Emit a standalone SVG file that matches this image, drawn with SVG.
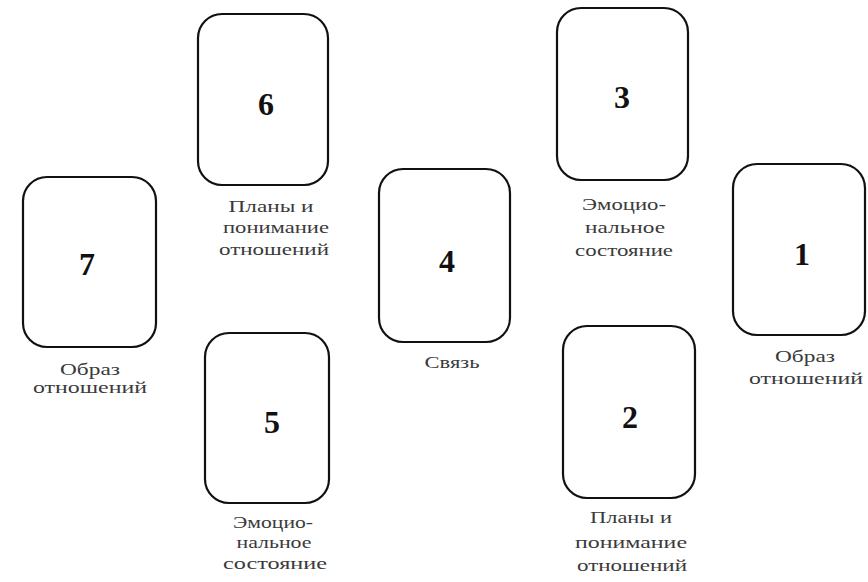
<svg xmlns="http://www.w3.org/2000/svg" width="868" height="582" viewBox="0 0 868 582">
<style>
.card{fill:#fff;stroke:#111;stroke-width:2.2}
.num{font-family:"Liberation Serif",serif;font-weight:bold;font-size:32px;fill:#111;text-anchor:middle}
.cap{font-family:"Liberation Serif",serif;font-size:16px;fill:#3a3a3a;text-anchor:middle}
</style>
<rect width="868" height="582" fill="#fff"/>
<g id="card7">
<rect class="card" x="23" y="177" width="133" height="170" rx="24"/>
<text class="num" x="87" y="275">7</text>
<text class="cap" x="90" y="375" textLength="60" lengthAdjust="spacingAndGlyphs">Образ</text>
<text class="cap" x="90" y="393" textLength="114" lengthAdjust="spacingAndGlyphs">отношений</text>
</g>
<g id="card6">
<rect class="card" x="198" y="14" width="130" height="171" rx="24"/>
<text class="num" x="266" y="115">6</text>
<text class="cap" x="271" y="212" textLength="85" lengthAdjust="spacingAndGlyphs">Планы и</text>
<text class="cap" x="276" y="233" textLength="106" lengthAdjust="spacingAndGlyphs">понимание</text>
<text class="cap" x="274" y="255" textLength="110" lengthAdjust="spacingAndGlyphs">отношений</text>
</g>
<g id="card5">
<rect class="card" x="205" y="333" width="124" height="170" rx="24"/>
<text class="num" x="272" y="433">5</text>
<text class="cap" x="273" y="528" textLength="80" lengthAdjust="spacingAndGlyphs">Эмоцио-</text>
<text class="cap" x="274" y="548" textLength="75" lengthAdjust="spacingAndGlyphs">нальное</text>
<text class="cap" x="275" y="569" textLength="104" lengthAdjust="spacingAndGlyphs">состояние</text>
</g>
<g id="card4">
<rect class="card" x="379" y="169" width="131" height="173" rx="24"/>
<text class="num" x="447" y="272">4</text>
<text class="cap" x="452" y="368" textLength="55" lengthAdjust="spacingAndGlyphs">Связь</text>
</g>
<g id="card3">
<rect class="card" x="557" y="8" width="131" height="172" rx="24"/>
<text class="num" x="622" y="108">3</text>
<text class="cap" x="624" y="210" textLength="84" lengthAdjust="spacingAndGlyphs">Эмоцио-</text>
<text class="cap" x="625" y="233" textLength="80" lengthAdjust="spacingAndGlyphs">нальное</text>
<text class="cap" x="624" y="256" textLength="98" lengthAdjust="spacingAndGlyphs">состояние</text>
</g>
<g id="card2">
<rect class="card" x="563" y="326" width="132" height="172" rx="24"/>
<text class="num" x="630" y="428">2</text>
<text class="cap" x="631" y="523" textLength="82" lengthAdjust="spacingAndGlyphs">Планы и</text>
<text class="cap" x="631" y="548" textLength="112" lengthAdjust="spacingAndGlyphs">понимание</text>
<text class="cap" x="632" y="571" textLength="110" lengthAdjust="spacingAndGlyphs">отношений</text>
</g>
<g id="card1">
<rect class="card" x="733" y="164" width="132" height="171" rx="24"/>
<text class="num" x="802" y="265">1</text>
<text class="cap" x="805" y="362" textLength="60" lengthAdjust="spacingAndGlyphs">Образ</text>
<text class="cap" x="806" y="384" textLength="114" lengthAdjust="spacingAndGlyphs">отношений</text>
</g>
<g id="connectors"></g>
</svg>
